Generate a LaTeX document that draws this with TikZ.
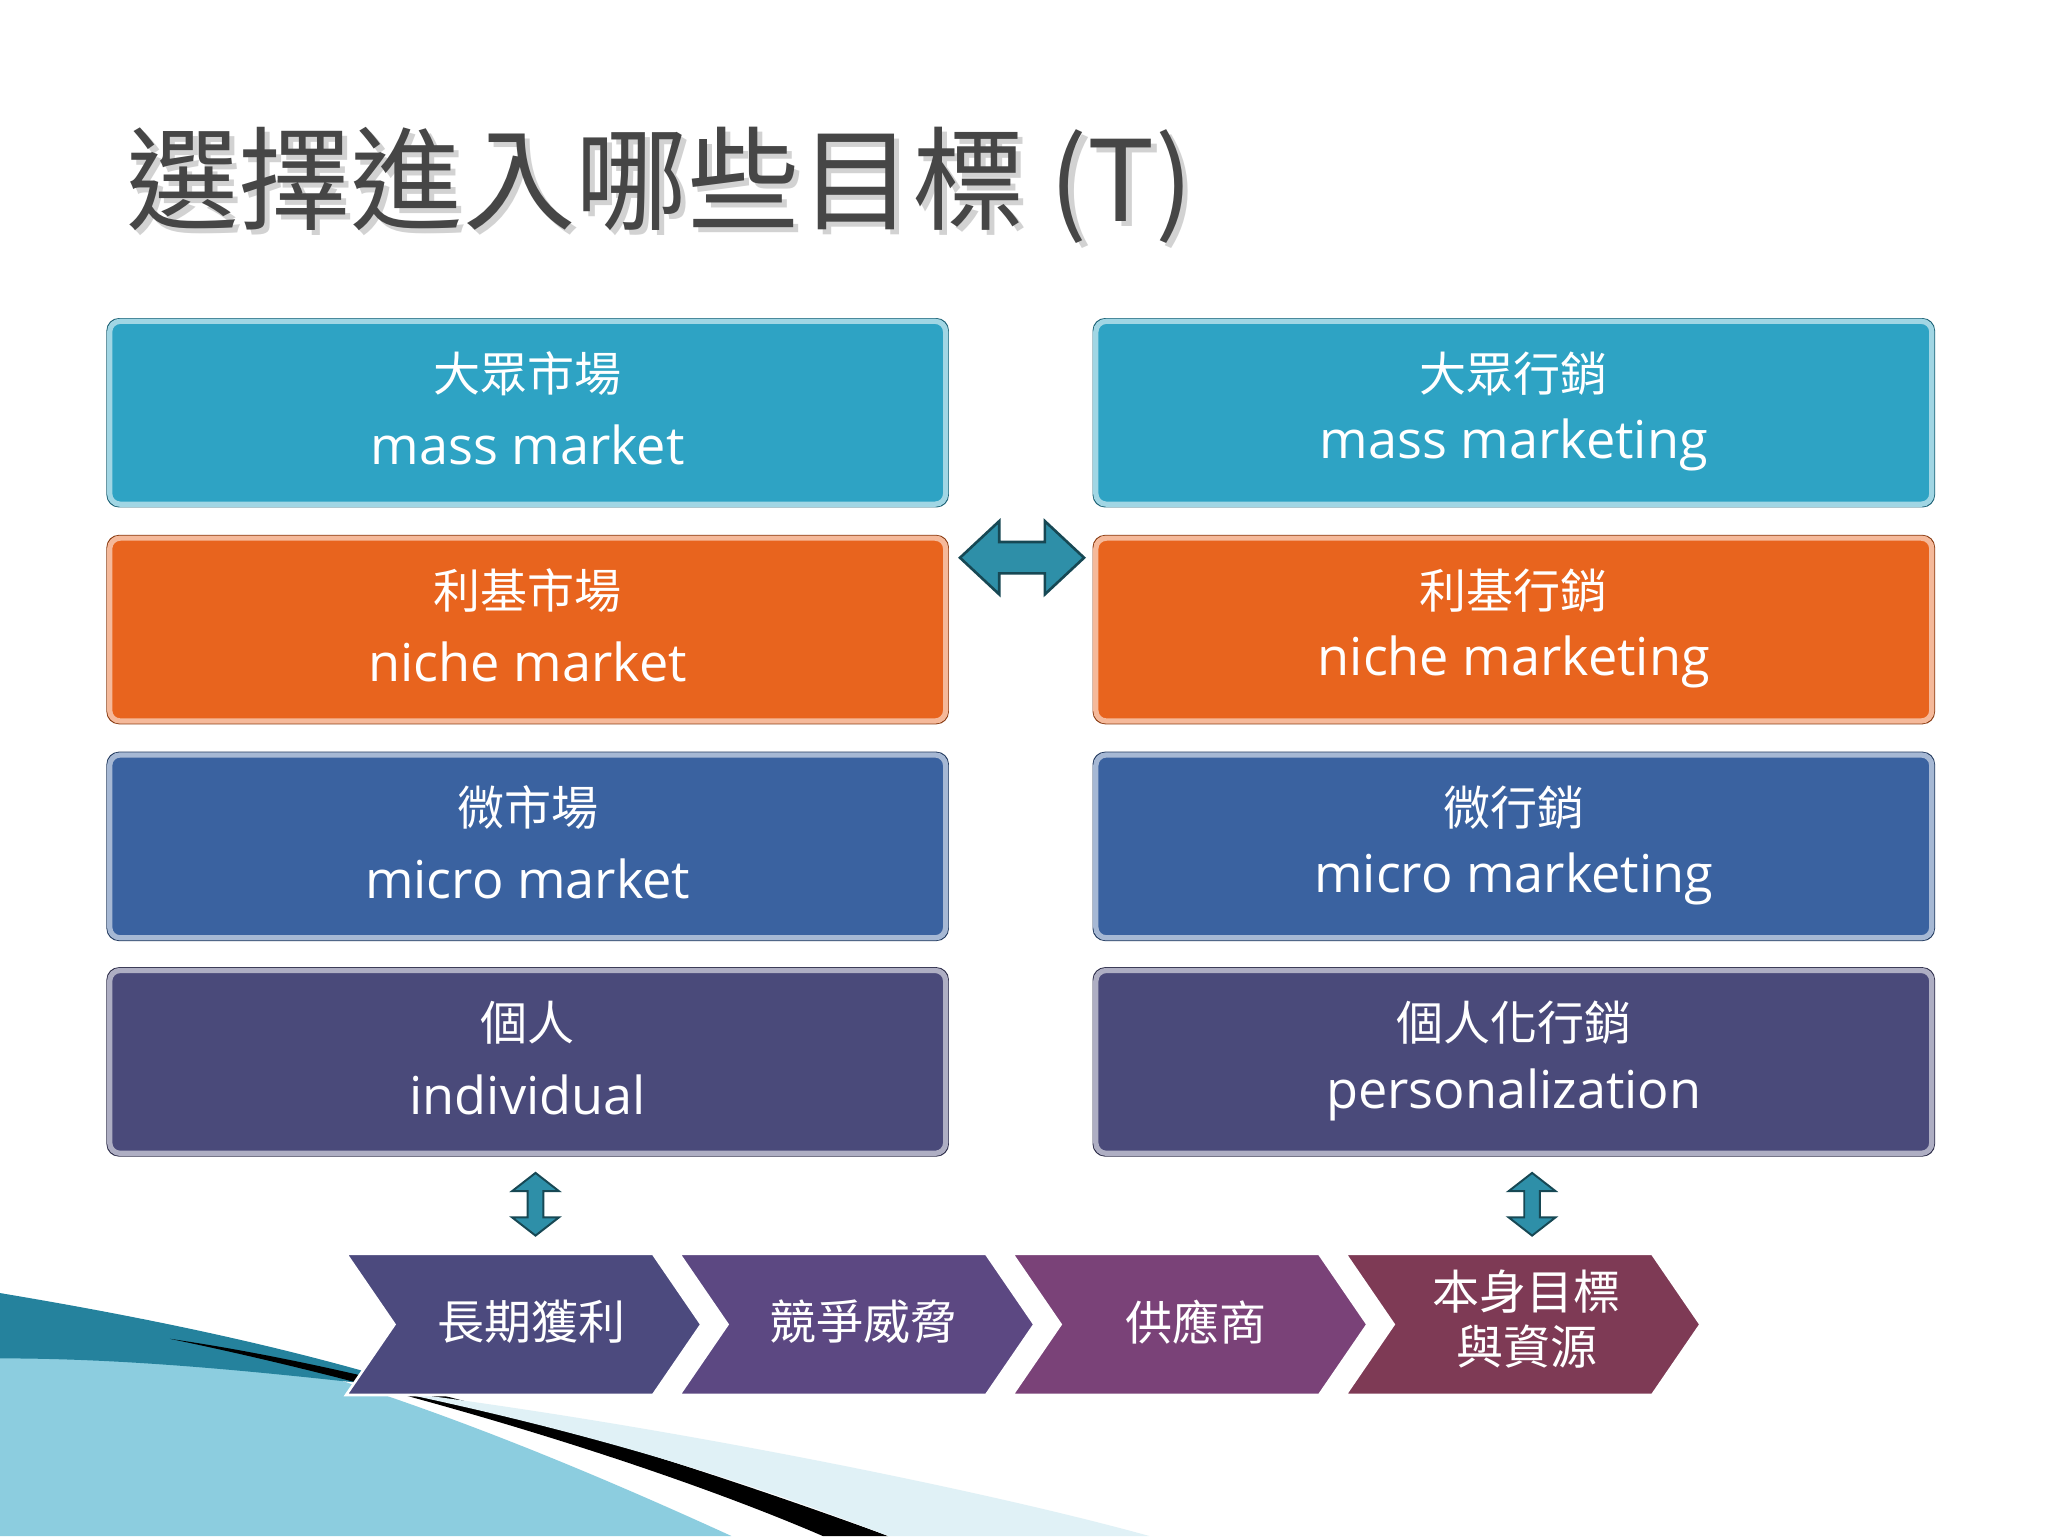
\documentclass[tikz,border=0pt]{standalone}
\usepackage{fontspec}
\setmainfont{Noto Sans CJK TC}
\newfontfamily\latinf{Open Sans}
\definecolor{cteal}{HTML}{2EA3C4}
\definecolor{corange}{HTML}{E8641E}
\definecolor{cblue}{HTML}{3A62A0}
\definecolor{cnavy}{HTML}{4A4A7A}
\definecolor{ch1}{HTML}{4C4A7E}
\definecolor{ch2}{HTML}{5C4882}
\definecolor{ch3}{HTML}{7A4278}
\definecolor{ch4}{HTML}{7E3A55}
\definecolor{arr}{HTML}{2E8FA8}
\tikzset{
 box/.style={draw=#1!45!white,line width=2pt,fill=#1,rounded corners=8pt,minimum width=640pt,minimum height=140pt,inner sep=0pt,
   double=#1!70!black, double distance=0pt},
 cjk/.style={text=white,font=\fontsize{36}{42}\selectfont},
 eng/.style={text=white,font=\latinf\fontsize{40}{48}\selectfont},
 chev/.style={draw=white,line width=2pt,fill=#1},
 ctxt/.style={text=white,font=\fontsize{36}{42}\selectfont,align=center},
}
\begin{document}
\begin{tikzpicture}[x=1pt,y=-1pt]
\useasboundingbox (0,0) rectangle (1568,1176);
\fill[white] (0,0) rectangle (1568,1176);
% bottom-left decoration
\fill[cteal!55!white] (0,990) .. controls (200,1030) and (350,1080) .. (560,1176) -- (0,1176) -- cycle;
\fill[cteal!80!black] (0,990) .. controls (150,1015) and (250,1040) .. (330,1065) .. controls (200,1050) and (100,1040) .. (0,1040) -- cycle;
\fill[black] (130,1025) .. controls (300,1060) and (500,1120) .. (630,1176) -- (680,1176) .. controls (500,1110) and (300,1050) .. (130,1025) -- cycle;
\fill[cteal!15!white] (680,1176) .. controls (550,1125) and (420,1090) .. (300,1065) .. controls (500,1090) and (750,1140) .. (880,1176) -- cycle;
% title
\node[anchor=west,text=gray!35,font=\fontsize{86}{90}\selectfont] (tsh) at (97,146) {選擇進入哪些目標 (T)};
\node[anchor=west,text=gray!55!black,font=\fontsize{86}{90}\selectfont] (title) at (93,142) {選擇進入哪些目標 (T)};
% boxes
\foreach \n/\x/\y/\c/\a/\b in {l1/404/316/cteal/大眾市場/mass market, l2/404/482/corange/利基市場/niche market, l3/404/648/cblue/微市場/micro market, l4/404/813/cnavy/個人/individual,
 r1/1159/316/cteal/大眾行銷/mass marketing, r2/1159/482/corange/利基行銷/niche marketing, r3/1159/648/cblue/微行銷/micro marketing, r4/1159/813/cnavy/個人化行銷/personalization}{
 \draw[\c!60!black,line width=1pt,rounded corners=9pt] (\x-322,\y-72) rectangle (\x+322,\y+72);
 \node[box=\c] (\n) at (\x,\y) {};
 \node[cjk] (\n a) at (\x,\y-30) {\a};
 \node[eng] (\n b) at (\x,\y+25) {\b};
}
% horizontal double arrow
\fill[arr,draw=arr!50!black,line width=2pt] (735,427) -- (765,399) -- (765,415) -- (800,415) -- (800,399) -- (830,427) -- (800,455) -- (800,439) -- (765,439) -- (765,455) -- cycle;
% vertical double arrows
\foreach \x in {410,1173}{
\fill[arr,draw=arr!50!black,line width=1.5pt] (\x,898) -- (\x+18,912) -- (\x+6,912) -- (\x+6,932) -- (\x+18,932) -- (\x,946) -- (\x-18,932) -- (\x-6,932) -- (\x-6,912) -- (\x-18,912) -- cycle;
}
% chevrons
\foreach \x/\c in {265/ch1,520/ch2,775/ch3,1030/ch4}{
\draw[chev=\c] (\x,960) -- (\x+235,960) -- (\x+272,1014) -- (\x+235,1068) -- (\x,1068) -- (\x+37,1014) -- cycle;
}
\node[ctxt] (t1) at (407,1012) {長期獲利};
\node[ctxt] (t2) at (661,1012) {競爭威脅};
\node[ctxt] (t3) at (916,1012) {供應商};
\node[ctxt] (t4) at (1169,1010) {本身目標\\與資源};
\end{tikzpicture}
\end{document}
